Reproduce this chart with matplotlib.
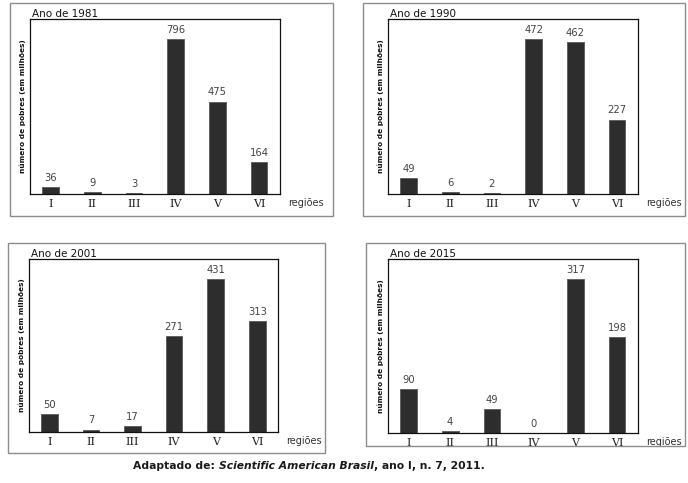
import matplotlib
matplotlib.use("Agg")
import matplotlib.pyplot as plt
from matplotlib.patches import Rectangle

regions = ["I", "II", "III", "IV", "V", "VI"]
years = ["1981", "1990", "2001", "2015"]
v1981 = [36, 9, 3, 796, 475, 164]
v1990 = [49, 6, 2, 472, 462, 227]
v2001 = [50, 7, 17, 271, 431, 313]
v2015 = [90, 4, 49, 0, 317, 198]
ylabel = "número de pobres (em milhões)"
xlabel = "regiões"
source_parts = [("Adaptado de: ", "normal"),
                ("Scientific American Brasil", "italic"),
                (", ano I, n. 7, 2011.", "normal")]

W, H = 688, 483
fig = plt.figure(figsize=(W / 100, H / 100), dpi=100)
fig.patch.set_facecolor("white")


def frac(x0, y0, x1, y1):
    return [x0 / W, 1 - y1 / H, (x1 - x0) / W, (y1 - y0) / H]


layout = [
    ((10, 3, 333, 216), (30, 19, 280, 194)),
    ((363, 3, 685, 216), (388, 19, 638, 194)),
    ((8, 243, 325, 453), (29, 259, 278, 432)),
    ((366, 243, 685, 446), (388, 259, 638, 433)),
]
series = [v1981, v1990, v2001, v2015]

for year, vals, (outer, inner) in zip(years, series, layout):
    o = frac(*outer)
    fig.patches.append(Rectangle((o[0], o[1]), o[2], o[3], transform=fig.transFigure,
                                 fill=False, edgecolor="#8c8c8c", lw=1.0, zorder=0))
    ax = fig.add_axes(frac(*inner))
    x = list(range(len(regions)))
    ax.bar(x, vals, width=0.4, color="#2d2d2d", edgecolor="#5a5a5a", linewidth=0.6)
    ax.set_xlim(-0.49, 5.5)
    ax.set_ylim(0, max(vals) * 1.13)
    ax.set_yticks([])
    ax.set_xticks(x)
    ax.set_xticklabels(regions, family="DejaVu Serif", fontsize=8, color="#222222")
    ax.tick_params(axis="x", length=0, pad=3.5)
    for s in ax.spines.values():
        s.set_linewidth(0.9)
        s.set_color("#111111")
    for xi, v in zip(x, vals):
        ax.annotate(str(v), (xi, v), xytext=(0, 3), textcoords="offset points",
                    ha="center", va="bottom", fontsize=7.2, color="#444444")
    ax.set_ylabel(ylabel, fontsize=5.3, fontweight="bold", labelpad=3, color="#111111")
    ax.text(0.008, 1.0, "Ano de " + year, transform=ax.transAxes, ha="left", va="bottom",
            fontsize=7.5, color="#111111")
    ax.annotate(xlabel, (1, 0), xycoords="axes fraction", xytext=(6, -6.5),
                textcoords="offset points", ha="left", va="center", fontsize=7,
                color="#333333")

# source line
fig.canvas.draw()
renderer = fig.canvas.get_renderer()
x0 = 133 / W
ypos = 1 - 466 / H
for txt, style in source_parts:
    t = fig.text(x0, ypos, txt, transform=fig.transFigure, ha="left", va="center",
                 fontsize=7.75, fontweight="bold", fontstyle=style, color="#1a1a1a")
    bb = t.get_window_extent(renderer=renderer)
    x0 = bb.x1 / fig.bbox.width

fig.savefig("out.png", dpi=100)
